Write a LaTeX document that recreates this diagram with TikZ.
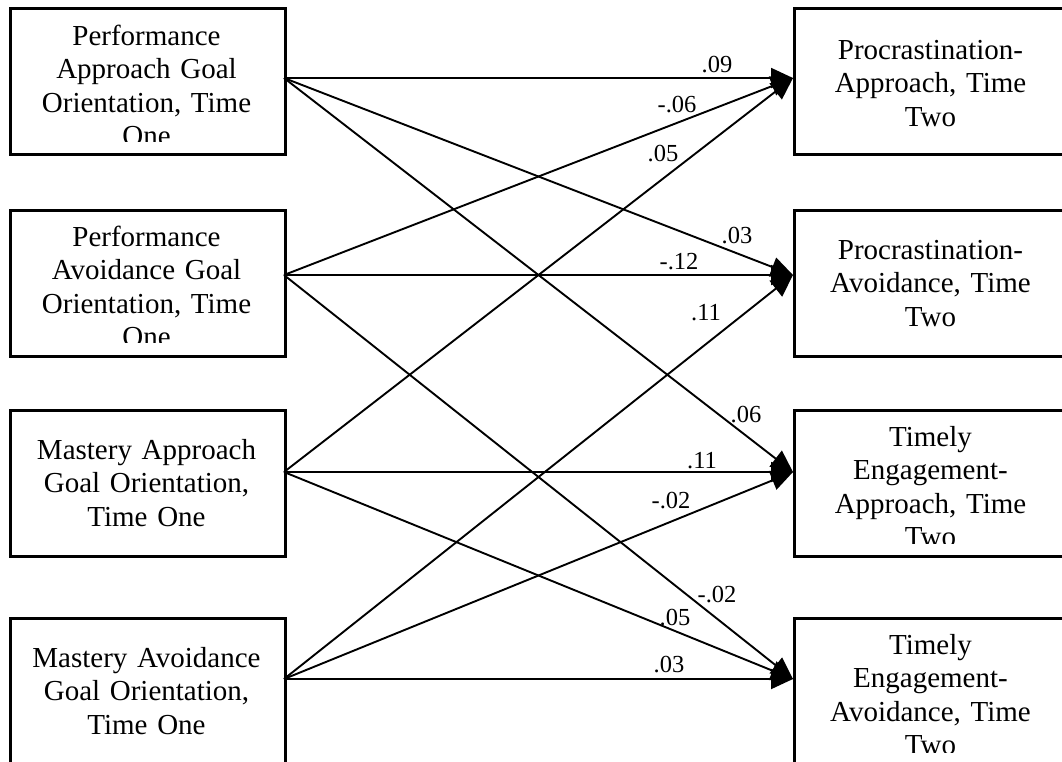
\documentclass[tikz,border=0pt]{standalone}
\usepackage{fontspec}
\setmainfont{Liberation Serif}
\usetikzlibrary{arrows.meta,calc}
\begin{document}
\begin{tikzpicture}[x=1pt,y=-1pt,
  varbox/.style={draw, line width=2.6pt, minimum width=275pt, minimum height=146pt,
                 inner sep=0pt, anchor=north west},
  boxtext/.style={font=\fontsize{29}{33.5}\selectfont, text width=270pt, align=center,
                  inner sep=0pt, anchor=base},
  link/.style={line width=1.9pt, -{Triangle[length=22pt,width=20pt]}},
  coef/.style={font=\fontsize{24.5}{28}\selectfont, inner sep=0pt, anchor=base}]

\useasboundingbox (0,0) rectangle (1062,761);
\clip (0,0) rectangle (1062,761);

% predictor boxes (time one)
\node[varbox] (L1) at (9,7)   {};
\node[varbox] (L2) at (9,209) {};
\node[varbox] (L3) at (9,409) {};
\node[varbox] (L4) at (9,617) {};
% outcome boxes (time two)
\node[varbox] (R1) at (793,7)   {};
\node[varbox] (R2) at (793,209) {};
\node[varbox] (R3) at (793,409) {};
\node[varbox] (R4) at (793,617) {};

% box texts, clipped a little above the lower border
\begin{scope}
  \clip (L1.north west) rectangle ($(L1.south east)+(0,-14)$);
  \node[boxtext] (tL1) at (146.5,45) {Performance\\Approach Goal\\Orientation, Time\\One};
\end{scope}
\begin{scope}
  \clip (L2.north west) rectangle ($(L2.south east)+(0,-15)$);
  \node[boxtext] (tL2) at (146.5,246) {Performance\\Avoidance Goal\\Orientation, Time\\One};
\end{scope}
\begin{scope}
  \clip (L3.north west) rectangle ($(L3.south east)+(0,-11)$);
  \node[boxtext] (tL3) at (146.5,459) {Mastery Approach\\Goal Orientation,\\Time One};
\end{scope}
\begin{scope}
  \clip (L4.north west) rectangle ($(L4.south east)+(0,-11)$);
  \node[boxtext] (tL4) at (146.5,667) {Mastery Avoidance\\Goal Orientation,\\Time One};
\end{scope}
\begin{scope}
  \clip (R1.north west) rectangle ($(R1.south east)+(0,-11)$);
  \node[boxtext] (tR1) at (930.5,59) {Procrastination-\\Approach, Time\\Two};
\end{scope}
\begin{scope}
  \clip (R2.north west) rectangle ($(R2.south east)+(0,-11)$);
  \node[boxtext] (tR2) at (930.5,259) {Procrastination-\\Avoidance, Time\\Two};
\end{scope}
\begin{scope}
  \clip (R3.north west) rectangle ($(R3.south east)+(0,-14.5)$);
  \node[boxtext] (tR3) at (930.5,446) {Timely\\Engagement-\\Approach, Time\\Two};
\end{scope}
\begin{scope}
  \clip (R4.north west) rectangle ($(R4.south east)+(0,-13)$);
  \node[boxtext] (tR4) at (930.5,654) {Timely\\Engagement-\\Avoidance, Time\\Two};
\end{scope}

% connection ports on the box edges
\coordinate (pL1) at (284,78);
\coordinate (pL2) at (284,275);
\coordinate (pL3) at (284,472);
\coordinate (pL4) at (284,679);
\coordinate (pR1) at (793,78);
\coordinate (pR2) at (793,275);
\coordinate (pR3) at (793,472);
\coordinate (pR4) at (793,679);

% paths
\draw[link] (pL1) -- (pR1);
\draw[link] (pL1) -- (pR2);
\draw[link] (pL1) -- (pR3);
\draw[link] (pL2) -- (pR1);
\draw[link] (pL2) -- (pR2);
\draw[link] (pL2) -- (pR4);
\draw[link] (pL3) -- (pR1);
\draw[link] (pL3) -- (pR3);
\draw[link] (pL3) -- (pR4);
\draw[link] (pL4) -- (pR2);
\draw[link] (pL4) -- (pR3);
\draw[link] (pL4) -- (pR4);

% path coefficients
\node[coef] (c11) at (717,72)  {.09};
\node[coef] (c21) at (677,112) {-.06};
\node[coef] (c31) at (663,161) {.05};
\node[coef] (c12) at (737,243) {.03};
\node[coef] (c22) at (679,269) {-.12};
\node[coef] (c42) at (706,320) {.11};
\node[coef] (c13) at (746,422) {.06};
\node[coef] (c33) at (702,468) {.11};
\node[coef] (c43) at (671,508) {-.02};
\node[coef] (c24) at (717,602) {-.02};
\node[coef] (c34) at (675,625) {.05};
\node[coef] (c44) at (669,672) {.03};
\end{tikzpicture}
\end{document}
